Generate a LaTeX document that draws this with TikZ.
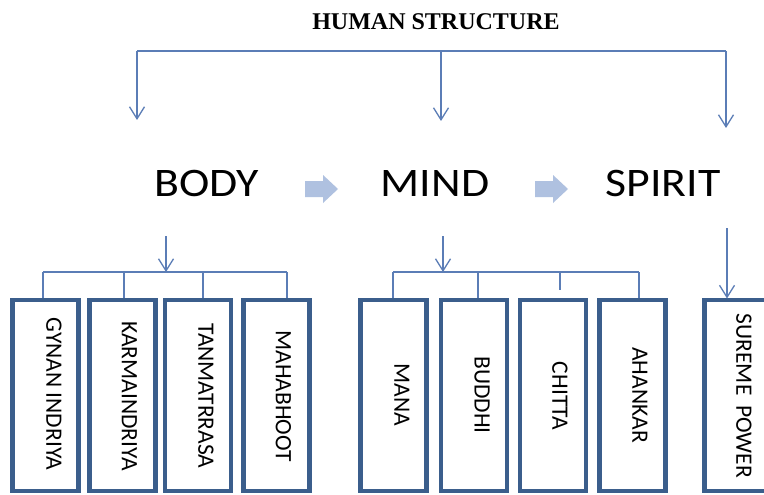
\documentclass[tikz,border=0pt]{standalone}
\usepackage{fontspec}
\setmainfont{Carlito}
\newfontfamily\titlefont{Liberation Serif}
\newfontfamily\widefont[FakeStretch=1.13]{Carlito}
\usetikzlibrary{arrows.meta}
\definecolor{boxblue}{HTML}{3B5E8C}
\definecolor{linkblue}{HTML}{5B7DB6}
\definecolor{blockblue}{HTML}{AFC1E0}
\begin{document}
\begin{tikzpicture}[x=1pt,y=-1pt,
  box/.style={draw=boxblue, line width=4.5pt, minimum width=66pt, minimum height=191pt, inner sep=0pt},
  vtext/.style={rotate=-90, font=\fontsize{23.5}{24}\selectfont, inner sep=0pt},
  link/.style={draw=linkblue, line width=1.3pt},
  tip/.style={-{Straight Barb[length=12pt,width=15pt]}},
  big/.style={font=\widefont\fontsize{40.5}{44}\selectfont, inner sep=0pt, anchor=base},
  blockarrow/.style={fill=blockblue}]
\useasboundingbox (0,0) rectangle (764,495);
\fill[white] (0,0) rectangle (764,495);

% title and top tree
\node[font=\titlefont\bfseries\fontsize{24}{26}\selectfont, inner sep=0pt, anchor=base] (title) at (436,30) {HUMAN STRUCTURE};
\coordinate (tl) at (137,51);
\coordinate (tm) at (441,51);
\coordinate (tr) at (726,51);
\coordinate (ab) at (137,120);
\coordinate (am) at (441,121);
\coordinate (as) at (726,128);
\draw[link] (tl) -- (tr);
\draw[link,tip] (tl) -- (ab);
\draw[link,tip] (tm) -- (am);
\draw[link,tip] (tr) -- (as);

% main words
\node[big] (body) at (206.5,196) {BODY};
\node[big] (mind) at (435,196) {MIND};
\node[big] (spirit) at (663,196) {SPIRIT};
\fill[blockarrow] (305,181) -- (323,181) -- (323,175) -- (338,189) -- (323,203) -- (323,197) -- (305,197) -- cycle;
\fill[blockarrow] (535,181) -- (553,181) -- (553,175) -- (568,189) -- (553,203) -- (553,197) -- (535,197) -- cycle;

% boxes
\node[box] (g) at (45.5,395.25) {};
\node[box] (k) at (122.5,395.25) {};
\node[box] (t) at (198,395.25) {};
\node[box] (m) at (276.5,395.25) {};
\node[box] (mana) at (393.5,395.25) {};
\node[box] (bud) at (474,395.25) {};
\node[box] (chi) at (553,395.25) {};
\node[box] (aha) at (632.5,395.25) {};
\node[box] (sup) at (737.5,395.25) {};

\node[vtext] (gt) at (54,394) {GYNAN INDRIYA};
\node[vtext] (kt) at (129.5,396) {KARMAINDRIYA};
\node[vtext] (tt) at (206,396) {TANMATRRASA};
\node[vtext] (mt) at (283.5,396) {MAHABHOOT};
\node[vtext] (manat) at (402,395) {MANA};
\node[vtext] (budt) at (482,395) {BUDDHI};
\node[vtext] (chit) at (560,396) {CHITTA};
\node[vtext] (ahat) at (640,395) {AHANKAR};
\node[vtext] (supt) at (744,396) {SUREME\hspace{10pt}POWER};

% body bracket
\coordinate (bb1) at (166,236);
\coordinate (bb2) at (166,272);
\coordinate (bl) at (43,272);
\coordinate (br) at (287,272);
\draw[link,tip] (bb1) -- (bb2);
\draw[link] (bl) -- (br);
\draw[link] (bl) -- ([xshift=-2.5pt]g.north);
\draw[link] (124,272) -- ([xshift=1.5pt]k.north);
\draw[link] (203,272) -- ([xshift=5pt]t.north);
\draw[link] (br) -- ([xshift=10.5pt]m.north);

% mind bracket
\coordinate (mb1) at (443,236);
\coordinate (mb2) at (443,272);
\coordinate (ml) at (393,272);
\coordinate (mr) at (639,272);
\draw[link,tip] (mb1) -- (mb2);
\draw[link] (ml) -- (mr);
\draw[link] (ml) -- ([xshift=-0.5pt]mana.north);
\draw[link] (478,272) -- ([xshift=4pt]bud.north);
\draw[link] (560,272) -- ([xshift=7pt,yshift=8pt]chi.north);
\draw[link] (mr) -- ([xshift=6.5pt]aha.north);

% spirit
\coordinate (sb1) at (727,228);
\draw[link,tip] (sb1) -- ([xshift=-10.5pt,yshift=-1pt]sup.north);
\end{tikzpicture}
\end{document}
